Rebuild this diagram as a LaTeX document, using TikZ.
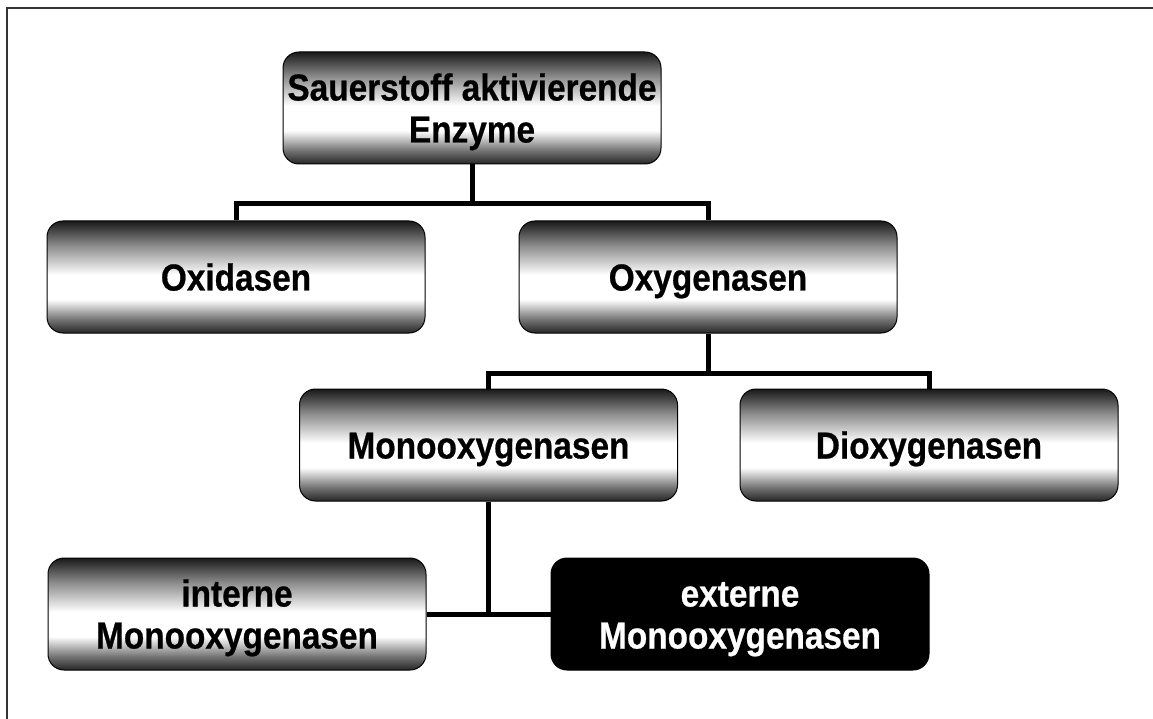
\documentclass[tikz,border=0pt]{standalone}
\usepackage{fontspec}
\setmainfont{Liberation Sans}
\newfontfamily\boxfont{Liberation Sans}[FakeStretch=0.89, BoldFeatures={FakeBold=0.6}]
\pgfdeclareverticalshading{boxshade}{100bp}{%
  color(0bp)=(black!85);
  color(25bp)=(black!85);
  color(31bp)=(black!55);
  color(40bp)=(white);
  color(51bp)=(white);
  color(64bp)=(black!45);
  color(75bp)=(black!90);
  color(100bp)=(black!90)}
\tikzset{
  basebox/.style={draw=black, line width=1pt,
    rounded corners=16pt, minimum width=378pt, minimum height=112pt,
    inner sep=0pt, align=center, text depth=0pt, text height=27pt,
    font=\boxfont\fontsize{37.5}{42}\selectfont\bfseries},
  twoline/.style={text height=69pt},
  box/.style={basebox, shade, shading=boxshade, text=black},
  darkbox/.style={basebox, fill=black, text=white},
  conn/.style={line width=5pt, line join=miter, draw=black},
  frameline/.style={line width=1.5pt, draw=black!80}
}
\begin{document}
\begin{tikzpicture}[x=1pt, y=-1pt]
\useasboundingbox (0,0) rectangle (1153,719);
\draw[frameline] (7,719) -- (7,8) -- (1153,8);
\node[box, twoline] (top) at (472,108) {Sauerstoff aktivierende\\Enzyme};
\node[box] (oxi) at (236,277) {Oxidasen};
\node[box] (oxy) at (708,277) {Oxygenasen};
\node[box] (mono) at (488.5,445) {Monooxygenasen};
\node[box] (dioxy) at (929,445) {Dioxygenasen};
\node[box, twoline] (int) at (237,614) {interne\\Monooxygenasen};
\node[darkbox, twoline] (ext) at (740,614) {externe\\Monooxygenasen};
\coordinate (b1) at (472,204);
\coordinate (b2) at (708,373);
\draw[conn] (top.south) -- (b1);
\draw[conn] (oxi.north) |- (b1) -| (oxy.north);
\draw[conn] (oxy.south) -- (b2);
\draw[conn] (mono.north) |- (b2) -| (dioxy.north);
\draw[conn] (mono.south) -- (mono.south |- int.east);
\draw[conn] (int.east) -- (ext.west);
\end{tikzpicture}
\end{document}
